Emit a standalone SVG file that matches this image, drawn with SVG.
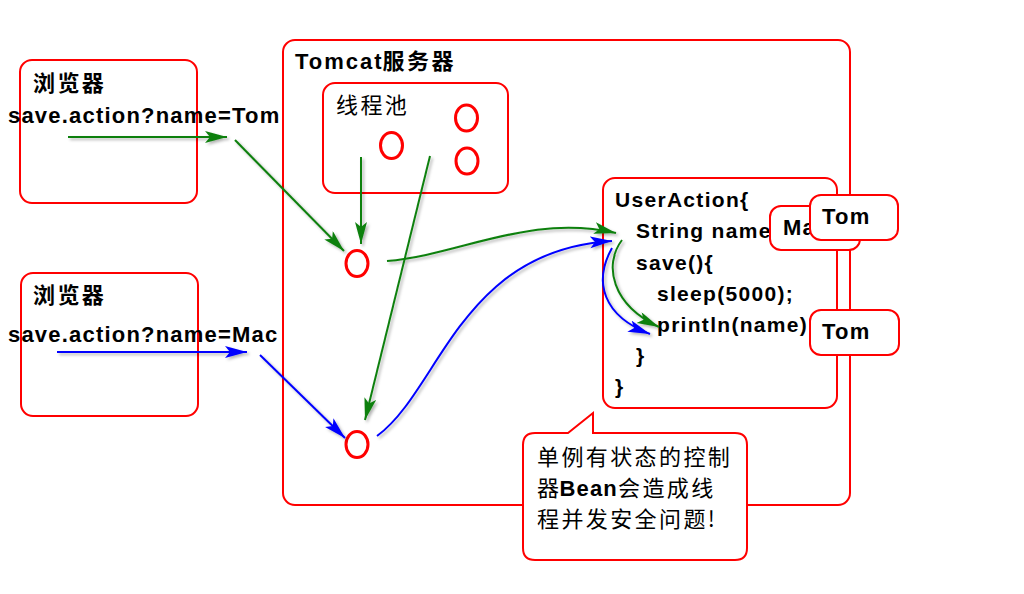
<svg xmlns="http://www.w3.org/2000/svg" width="1024" height="594" viewBox="0 0 1024 594">
<style>
.box{fill:#fff;stroke:#ff0000;stroke-width:2}
.ell{fill:none;stroke:#ff0000;stroke-width:3}
.lat{font-family:"Liberation Sans",Arial,sans-serif;font-weight:bold;font-size:22px;letter-spacing:1.2px;fill:#000}
.code{font-family:"Liberation Sans",Arial,sans-serif;font-weight:bold;font-size:21px;letter-spacing:1.3px;fill:#000}
.cjk{font-family:"Noto Sans CJK SC","Liberation Sans",sans-serif;font-size:22px;letter-spacing:2.4px;fill:#000}
.cjkb{font-family:"Noto Sans CJK SC","Liberation Sans",sans-serif;font-size:22px;font-weight:bold;letter-spacing:2.4px;fill:#000}
.g{fill:none;stroke:#108010;stroke-width:2;marker-end:url(#ag)}
.b{fill:none;stroke:#0000ff;stroke-width:2;marker-end:url(#ab)}
</style>
<defs>
<marker id="ag" markerUnits="userSpaceOnUse" markerWidth="24" markerHeight="14" refX="22" refY="6" orient="auto"><path d="M0,0 L22,6 L0,12 L5,6 z" fill="#108010"/></marker>
<marker id="ab" markerUnits="userSpaceOnUse" markerWidth="24" markerHeight="14" refX="22" refY="6" orient="auto"><path d="M0,0 L22,6 L0,12 L5,6 z" fill="#0000ff"/></marker>
<filter id="sh" x="-10%" y="-10%" width="120%" height="120%"><feDropShadow dx="2" dy="2" stdDeviation="1.5" flood-color="#000" flood-opacity="0.3"/></filter>
</defs>
<rect width="1024" height="594" fill="#fff"/>

<g id="browser1">
<rect class="box" x="20" y="60" width="177" height="143" rx="12"/>
<text class="cjkb" x="33" y="91">浏览器</text>
<text class="lat" x="8" y="123">save.action?name=Tom</text>
</g>
<g id="browser2">
<rect class="box" x="21" y="273" width="177" height="143" rx="12"/>
<text class="cjkb" x="33" y="303">浏览器</text>
<text class="lat" x="8" y="342">save.action?name=Mac</text>
</g>

<g id="tomcat">
<rect class="box" x="283" y="40" width="567" height="465" rx="12"/>
<text x="295" y="69"><tspan class="lat" style="letter-spacing:2px">Tomcat</tspan><tspan class="cjkb" dx="-1">服务器</tspan></text>
</g>

<g id="threadpool">
<rect class="box" x="323" y="83" width="185" height="110" rx="12"/>
<text class="cjk" x="336" y="113">线程池</text>
<ellipse class="ell" cx="391.5" cy="145.5" rx="11" ry="13"/>
<ellipse class="ell" cx="466.5" cy="118" rx="11" ry="13"/>
<ellipse class="ell" cx="467" cy="161" rx="11" ry="13"/>
</g>

<g id="thread1"><ellipse class="ell" cx="357" cy="263.5" rx="11" ry="13"/></g>
<g id="thread2"><ellipse class="ell" cx="357" cy="444.5" rx="11" ry="13"/></g>

<g id="useraction">
<rect class="box" x="603" y="178" width="234" height="230" rx="12"/>
<text class="code" x="615" y="207">UserAction{</text>
<text class="code" x="636" y="238">String name</text>
<text class="code" x="636" y="270">save(){</text>
<text class="code" x="657" y="301">sleep(5000);</text>
<text class="code" x="657" y="332">println(name)</text>
<text class="code" x="636" y="363">}</text>
<text class="code" x="615" y="394">}</text>
</g>

<g id="value-mac">
<rect class="box" x="770" y="206" width="90" height="44" rx="11"/>
<text class="lat" x="783" y="235">Mac</text>
</g>
<g id="value-tom1">
<rect class="box" x="810" y="195" width="88" height="45" rx="11"/>
<text class="lat" x="822" y="224">Tom</text>
</g>
<g id="value-tom2">
<rect class="box" x="810" y="310" width="89" height="45" rx="11"/>
<text class="lat" x="822" y="339">Tom</text>
</g>

<g id="connectors" filter="url(#sh)">
<line class="g" x1="68" y1="137" x2="227" y2="137"/>
<line class="g" x1="235" y1="140" x2="344" y2="251"/>
<line class="g" x1="361" y1="157" x2="361" y2="244"/>
<line class="g" x1="430" y1="156" x2="365" y2="420"/>
<path class="g" d="M387,261 C460,255 530,213 616,233"/>
<line class="b" x1="57" y1="352" x2="247" y2="352"/>
<line class="b" x1="260" y1="355" x2="345" y2="438"/>
<path class="b" d="M377,436 C440,390 460,250 612,241"/>
<path class="g" d="M622,240 C603,265 612,305 659,327"/>
<path class="b" d="M612,248 C593,282 603,316 650,334"/>
</g>

<g id="callout">
<path class="box" d="M535,433 L568,433 L593,413 L593,433 L735,433 Q747,433 747,445 L747,548 Q747,560 735,560 L535,560 Q523,560 523,548 L523,445 Q523,433 535,433 Z"/>
<text class="cjk" x="537" y="465">单例有状态的控制</text>
<text x="537" y="496"><tspan class="cjk">器</tspan><tspan class="lat" dx="-2">Bean</tspan><tspan class="cjk">会造成线</tspan></text>
<text class="cjk" x="537" y="527">程并发安全问题!</text>
</g>
</svg>
